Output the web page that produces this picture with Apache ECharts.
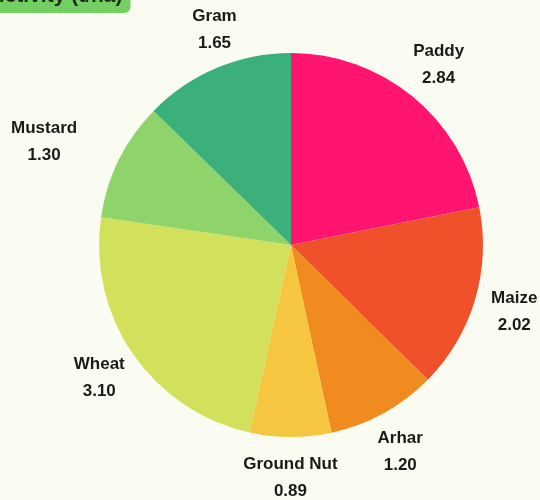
<!DOCTYPE html>
<html><head><meta charset="utf-8">
<script src="https://cdn.jsdelivr.net/npm/echarts@6/dist/echarts.min.js"></script>
<style>html,body{margin:0;padding:0;background:#fbfcf1}#c{width:540px;height:500px}</style>
</head><body><div id="c"></div>
<script>
const titleText = 'Productivity (t/ha)';
const crops = ['Paddy', 'Maize', 'Arhar', 'Ground Nut', 'Wheat', 'Mustard', 'Gram'];
const yields = [2.84, 2.02, 1.20, 0.89, 3.10, 1.30, 1.65];
const colors = ['#ff1570', '#f0502a', '#f08b1f', '#f7c640', '#d3e05c', '#8fd46b', '#3cb07a'];
const labelOffsets = [[0,0],[0,0],[-3,3],[0,0],[0,0],[-38,0],[14,0]];

const chart = echarts.init(document.getElementById('c'));
const baseData = crops.map((n, i) => ({ name: n, value: yields[i], itemStyle: { color: colors[i] } }));
const labelData = crops.map((n, i) => ({ name: n, value: yields[i], label: { offset: labelOffsets[i] } }));
chart.setOption({
  backgroundColor: '#fbfcf1',
  title: {
    text: titleText, left: -64, top: -20,
    backgroundColor: '#74cf63', borderRadius: 6, padding: [6, 8],
    textStyle: { fontFamily: 'Liberation Sans', fontWeight: 'bold', fontSize: 21, color: '#1e2a1a' }
  },
  series: [
    {
      type: 'pie', center: [291, 245], radius: 192, startAngle: 90, clockwise: true,
      silent: true, label: { show: false }, labelLine: { show: false },
      data: baseData
    },
    {
      type: 'pie', center: [291, 245], radius: [215, 245], startAngle: 90, clockwise: true,
      silent: true, itemStyle: { color: 'rgba(0,0,0,0)' },
      label: {
        show: true, position: 'inside', formatter: p => p.name + '\n' + p.value.toFixed(2),
        fontFamily: 'Liberation Sans', fontWeight: 'bold', fontSize: 17, lineHeight: 27, color: '#1a1a1a'
      },
      labelLine: { show: false },
      data: labelData
    }
  ]
});
</script></body></html>
